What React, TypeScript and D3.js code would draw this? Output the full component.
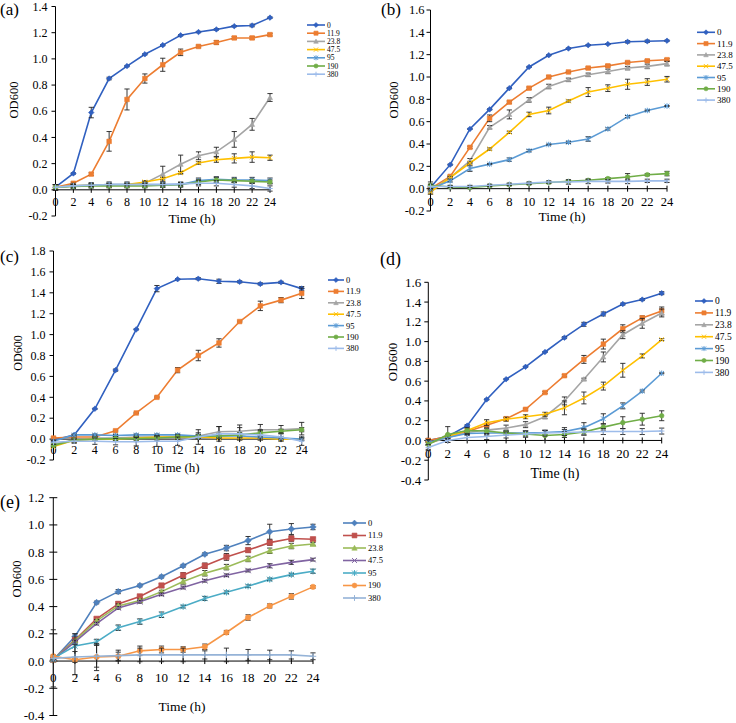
import React from 'react';
import * as d3 from 'd3';

// sampling times (h) and dose labels shared by every panel
const hours = [0, 2, 4, 6, 8, 10, 12, 14, 16, 18, 20, 22, 24];
const doses = ['0', '11.9', '23.8', '47.5', '95', '190', '380'];

// panel (a)
const aValues = [
  [0.02, 0.125, 0.59, 0.85, 0.945, 1.035, 1.105, 1.18, 1.205, 1.225, 1.25, 1.255, 1.315],
  [0.02, 0.05, 0.12, 0.37, 0.69, 0.85, 0.955, 1.05, 1.095, 1.125, 1.16, 1.16, 1.185],
  [0.02, 0.03, 0.035, 0.04, 0.04, 0.05, 0.12, 0.195, 0.26, 0.29, 0.385, 0.5, 0.705],
  [0.02, 0.03, 0.035, 0.035, 0.04, 0.06, 0.085, 0.13, 0.205, 0.23, 0.24, 0.25, 0.245],
  [0.02, 0.03, 0.035, 0.04, 0.04, 0.04, 0.04, 0.04, 0.07, 0.08, 0.075, 0.075, 0.07],
  [0.02, 0.025, 0.03, 0.03, 0.03, 0.03, 0.035, 0.04, 0.06, 0.075, 0.07, 0.065, 0.06],
  [0.02, 0.03, 0.035, 0.04, 0.04, 0.04, 0.04, 0.045, 0.05, 0.05, 0.04, 0.03, 0.01],
];
const aErrors = [
  [0.02, 0.005, 0.04, 0.01, 0.005, 0.005, 0.005, 0.005, 0.005, 0.005, 0.005, 0.01, 0.005],
  [0.02, 0.01, 0.01, 0.075, 0.08, 0.035, 0.05, 0.025, 0.01, 0.015, 0.01, 0.01, 0.01],
  [0.02, 0.01, 0.01, 0.01, 0.01, 0.01, 0.06, 0.07, 0.03, 0.035, 0.06, 0.045, 0.03],
  [0.02, 0.01, 0.01, 0.01, 0.01, 0.01, 0.01, 0.01, 0.01, 0.02, 0.035, 0.04, 0.02],
  [0.02, 0.02, 0.02, 0.02, 0.02, 0.02, 0.02, 0.02, 0.02, 0.02, 0.02, 0.02, 0.02],
  [0.02, 0.015, 0.015, 0.015, 0.015, 0.015, 0.015, 0.015, 0.02, 0.02, 0.015, 0.015, 0.015],
  [0.02, 0.01, 0.01, 0.01, 0.01, 0.01, 0.01, 0.01, 0.02, 0.02, 0.02, 0.02, 0.02],
];
const aTicks = [-0.2, 0, 0.2, 0.4, 0.6, 0.8, 1.0, 1.2, 1.4];

// panel (b)
const bValues = [
  [0.01, 0.215, 0.535, 0.71, 0.9, 1.09, 1.195, 1.255, 1.285, 1.295, 1.315, 1.32, 1.325],
  [0.0, 0.11, 0.37, 0.63, 0.775, 0.9, 1.0, 1.045, 1.08, 1.1, 1.13, 1.145, 1.155],
  [-0.02, 0.1, 0.25, 0.55, 0.665, 0.795, 0.915, 0.975, 1.02, 1.05, 1.08, 1.095, 1.12],
  [-0.03, 0.1, 0.23, 0.355, 0.505, 0.665, 0.7, 0.785, 0.865, 0.9, 0.935, 0.955, 0.98],
  [0.0, 0.07, 0.18, 0.22, 0.26, 0.34, 0.395, 0.415, 0.445, 0.535, 0.645, 0.7, 0.74],
  [0.03, 0.015, 0.01, 0.025, 0.035, 0.045, 0.055, 0.065, 0.075, 0.09, 0.105, 0.125, 0.135],
  [0.02, 0.02, 0.02, 0.03, 0.04, 0.05, 0.06, 0.06, 0.065, 0.065, 0.065, 0.07, 0.07],
];
const bErrors = [
  [0.02, 0.005, 0.005, 0.005, 0.005, 0.005, 0.005, 0.005, 0.005, 0.005, 0.01, 0.01, 0.005],
  [0.02, 0.01, 0.01, 0.03, 0.01, 0.01, 0.01, 0.005, 0.01, 0.01, 0.01, 0.01, 0.01],
  [0.02, 0.01, 0.02, 0.015, 0.04, 0.02, 0.02, 0.015, 0.015, 0.02, 0.015, 0.02, 0.02],
  [0.02, 0.01, 0.01, 0.01, 0.01, 0.02, 0.03, 0.01, 0.04, 0.03, 0.045, 0.03, 0.025],
  [0.02, 0.01, 0.025, 0.005, 0.015, 0.01, 0.005, 0.01, 0.02, 0.01, 0.01, 0.005, 0.005],
  [0.03, 0.01, 0.01, 0.01, 0.01, 0.01, 0.01, 0.01, 0.01, 0.01, 0.03, 0.01, 0.02],
  [0.02, 0.01, 0.01, 0.01, 0.01, 0.01, 0.01, 0.02, 0.02, 0.015, 0.02, 0.015, 0.015],
];
const bTicks = [-0.2, 0, 0.2, 0.4, 0.6, 0.8, 1.0, 1.2, 1.4, 1.6];

// panel (c)
const cValues = [
  [-0.01, 0.04, 0.29, 0.66, 1.05, 1.44, 1.53, 1.535, 1.51, 1.505, 1.485, 1.5, 1.44],
  [0.01, 0.02, 0.02, 0.08, 0.25, 0.4, 0.66, 0.8, 0.92, 1.125, 1.275, 1.33, 1.395],
  [-0.05, -0.01, 0.01, 0.01, 0.02, 0.02, 0.02, 0.03, 0.07, 0.075, 0.09, 0.09, 0.1],
  [-0.07, -0.01, 0.0, 0.0, 0.01, 0.02, 0.02, 0.02, 0.01, 0.01, 0.01, 0.0, 0.0],
  [-0.02, 0.04, 0.04, 0.035, 0.04, 0.04, 0.04, 0.03, 0.03, 0.03, 0.02, 0.01, 0.0],
  [-0.06, -0.01, 0.0, 0.005, 0.005, 0.01, 0.02, 0.025, 0.03, 0.04, 0.06, 0.075, 0.09],
  [-0.03, -0.02, -0.02, -0.025, -0.025, -0.02, -0.02, 0.02, 0.05, 0.05, 0.04, 0.02, -0.02],
];
const cErrors = [
  [0.01, 0.005, 0.005, 0.01, 0.005, 0.03, 0.005, 0.01, 0.02, 0.01, 0.01, 0.01, 0.02],
  [0.01, 0.005, 0.005, 0.005, 0.005, 0.005, 0.025, 0.05, 0.04, 0.005, 0.045, 0.025, 0.05],
  [0.02, 0.01, 0.01, 0.01, 0.02, 0.02, 0.02, 0.03, 0.05, 0.06, 0.05, 0.04, 0.06],
  [0.01, 0.01, 0.01, 0.01, 0.01, 0.01, 0.01, 0.01, 0.01, 0.01, 0.01, 0.01, 0.01],
  [0.01, 0.01, 0.01, 0.01, 0.01, 0.01, 0.01, 0.01, 0.01, 0.01, 0.01, 0.01, 0.01],
  [0.01, 0.02, 0.02, 0.02, 0.02, 0.02, 0.02, 0.02, 0.02, 0.02, 0.02, 0.02, 0.02],
  [0.02, 0.02, 0.03, 0.03, 0.04, 0.05, 0.04, 0.07, 0.07, 0.06, 0.05, 0.04, 0.04],
];
const cTicks = [-0.2, 0, 0.2, 0.4, 0.6, 0.8, 1.0, 1.2, 1.4, 1.6, 1.8];

// panel (d)
const dValues = [
  [0.0, 0.04, 0.15, 0.415, 0.62, 0.745, 0.895, 1.04, 1.175, 1.28, 1.38, 1.425, 1.49],
  [0.0, 0.04, 0.09, 0.155, 0.22, 0.315, 0.485, 0.655, 0.82, 0.975, 1.13, 1.24, 1.31],
  [-0.03, 0.03, 0.08, 0.105, 0.125, 0.16, 0.24, 0.4, 0.62, 0.845, 1.07, 1.185, 1.29],
  [-0.03, 0.04, 0.1, 0.18, 0.215, 0.24, 0.265, 0.33, 0.43, 0.55, 0.71, 0.855, 1.02],
  [-0.02, 0.03, 0.07, 0.075, 0.075, 0.075, 0.08, 0.09, 0.13, 0.22, 0.35, 0.5, 0.68],
  [-0.04, 0.06, 0.1, 0.095, 0.075, 0.065, 0.05, 0.06, 0.085, 0.135, 0.18, 0.215, 0.25],
  [-0.07, 0.0, 0.03, 0.04, 0.055, 0.065, 0.075, 0.08, 0.085, 0.09, 0.09, 0.09, 0.095],
];
const dErrors = [
  [0.02, 0.01, 0.01, 0.005, 0.005, 0.005, 0.005, 0.01, 0.02, 0.02, 0.01, 0.01, 0.015],
  [0.02, 0.01, 0.01, 0.01, 0.01, 0.01, 0.01, 0.01, 0.04, 0.05, 0.04, 0.02, 0.04],
  [0.02, 0.01, 0.02, 0.02, 0.03, 0.03, 0.02, 0.04, 0.01, 0.05, 0.04, 0.05, 0.04],
  [0.02, 0.01, 0.02, 0.03, 0.02, 0.02, 0.02, 0.07, 0.06, 0.04, 0.07, 0.02, 0.01],
  [0.02, 0.02, 0.02, 0.02, 0.02, 0.02, 0.02, 0.04, 0.05, 0.05, 0.03, 0.01, 0.005],
  [0.05, 0.08, 0.03, 0.03, 0.02, 0.03, 0.05, 0.03, 0.03, 0.03, 0.06, 0.06, 0.05],
  [0.03, 0.02, 0.03, 0.03, 0.03, 0.03, 0.03, 0.03, 0.03, 0.03, 0.03, 0.03, 0.03],
];
const dTicks = [-0.4, -0.2, 0, 0.2, 0.4, 0.6, 0.8, 1.0, 1.2, 1.4, 1.6];

// panel (e)
const eValues = [
  [0.01, 0.18, 0.43, 0.51, 0.555, 0.62, 0.7, 0.785, 0.83, 0.885, 0.95, 0.97, 0.985],
  [0.01, 0.155, 0.31, 0.42, 0.475, 0.555, 0.63, 0.7, 0.765, 0.815, 0.87, 0.9, 0.895],
  [0.01, 0.15, 0.295, 0.405, 0.445, 0.51, 0.585, 0.645, 0.69, 0.75, 0.81, 0.845, 0.86],
  [0.01, 0.14, 0.275, 0.39, 0.435, 0.49, 0.54, 0.59, 0.63, 0.665, 0.7, 0.725, 0.745],
  [0.02, 0.11, 0.14, 0.245, 0.29, 0.34, 0.4, 0.46, 0.505, 0.55, 0.6, 0.635, 0.66],
  [0.035, 0.01, 0.03, 0.035, 0.075, 0.085, 0.085, 0.105, 0.21, 0.32, 0.405, 0.475, 0.545],
  [0.02, 0.03, 0.035, 0.04, 0.045, 0.045, 0.045, 0.045, 0.045, 0.045, 0.045, 0.045, 0.035],
];
const eErrors = [
  [0.01, 0.02, 0.01, 0.015, 0.01, 0.01, 0.01, 0.01, 0.02, 0.03, 0.055, 0.04, 0.02],
  [0.01, 0.02, 0.01, 0.015, 0.01, 0.015, 0.02, 0.02, 0.025, 0.015, 0.02, 0.02, 0.01],
  [0.01, 0.01, 0.01, 0.015, 0.01, 0.01, 0.02, 0.02, 0.02, 0.02, 0.02, 0.02, 0.01],
  [0.01, 0.01, 0.01, 0.01, 0.01, 0.01, 0.01, 0.01, 0.01, 0.01, 0.015, 0.015, 0.01],
  [0.01, 0.09, 0.02, 0.02, 0.02, 0.02, 0.01, 0.015, 0.01, 0.01, 0.01, 0.01, 0.015],
  [0.01, 0.11, 0.1, 0.03, 0.035, 0.025, 0.02, 0.02, 0.015, 0.02, 0.015, 0.02, 0.01],
  [0.21, 0.04, 0.08, 0.04, 0.05, 0.05, 0.05, 0.03, 0.05, 0.04, 0.035, 0.03, 0.025],
];
const eTicks = [-0.4, -0.2, 0, 0.2, 0.4, 0.6, 0.8, 1.0, 1.2];

const colors2013 = ['#3060C0', '#ED7D31', '#A5A5A5', '#FFC000', '#5B9BD5', '#70AD47', '#9DBCEA'];
const colors2007 = ['#4F81BD', '#C0504D', '#9BBB59', '#8064A2', '#4BACC6', '#F79646', '#95B3D7'];
const markers = ['diamond', 'square', 'triangle', 'times', 'asterisk', 'circle', 'plus'];

const FONT = "'Liberation Serif', 'Times New Roman', Times, serif";

const panels = [
  {
    name: '(a)', values: aValues, errors: aErrors, ticks: aTicks, colors: colors2013,
    x0: 55.5, x1: 270, yDomain: [-0.2, 1.4], yRange: [216, 6.5],
    tickFont: 12, xLabelDy: 16.5, yGap: 8, crossTicks: false, r: 2.3,
    legend: { x: 307, w: 18, y: 25, dy: 8.2, font: 7.5 },
    title: { x: 0, y: 15, size: 17 },
    xTitle: { x: 192, y: 223, size: 13.5 },
    yTitle: { x: 13.5, y: 100, size: 12.5 },
  },
  {
    name: '(b)', values: bValues, errors: bErrors, ticks: bTicks, colors: colors2013,
    x0: 430.5, x1: 667, yDomain: [-0.2, 1.6], yRange: [211, 10],
    tickFont: 12.5, xLabelDy: 17.5, yGap: 6, crossTicks: false, r: 2.3,
    legend: { x: 697, w: 18, y: 32.3, dy: 11.3, font: 9 },
    title: { x: 381, y: 15, size: 17 },
    xTitle: { x: 562, y: 221, size: 13.5 },
    yTitle: { x: 393.5, y: 100, size: 12.5 },
  },
  {
    name: '(c)', values: cValues, errors: cErrors, ticks: cTicks, colors: colors2013,
    x0: 53.5, x1: 301.7, yDomain: [-0.2, 1.8], yRange: [460, 251],
    tickFont: 12, xLabelDy: 14.5, yGap: 8, crossTicks: false, r: 2.3,
    legend: { x: 328, w: 16, y: 280, dy: 11.4, font: 8.5 },
    title: { x: 0, y: 262, size: 17 },
    xTitle: { x: 177, y: 472, size: 13 },
    yTitle: { x: 18, y: 353, size: 12 },
  },
  {
    name: '(d)', values: dValues, errors: dErrors, ticks: dTicks, colors: colors2013,
    x0: 428.3, x1: 661.7, yDomain: [-0.4, 1.6], yRange: [480, 282.3],
    tickFont: 13, xLabelDy: 18, yGap: 7, crossTicks: false, r: 2.3,
    legend: { x: 695, w: 18, y: 301, dy: 11.9, font: 9.5 },
    title: { x: 380, y: 265, size: 18 },
    xTitle: { x: 555, y: 478, size: 14 },
    yTitle: { x: 392, y: 362, size: 13 },
  },
  {
    name: '(e)', values: eValues, errors: eErrors, ticks: eTicks, colors: colors2007,
    x0: 53.3, x1: 313, yDomain: [-0.4, 1.2], yRange: [715.5, 497.7],
    tickFont: 13, xLabelDy: 21, yGap: 9, crossTicks: true, r: 2.7,
    legend: { x: 343, w: 23, y: 523, dy: 12.5, font: 8.5 },
    title: { x: 0, y: 508, size: 18 },
    xTitle: { x: 182, y: 711, size: 13.5 },
    yTitle: { x: 16.5, y: 579, size: 12.5 },
  },
];

// marker outline for a given kind, centred on 0,0
const markerPath = (kind: string, r: number) => {
  switch (kind) {
    case 'diamond':
      return `M0,${-r * 1.2}L${r * 1.2},0L0,${r * 1.2}L${-r * 1.2},0Z`;
    case 'square':
      return `M${-r},${-r}h${2 * r}v${2 * r}h${-2 * r}Z`;
    case 'triangle':
      return `M0,${-r * 1.1}L${r * 1.1},${r * 0.9}L${-r * 1.1},${r * 0.9}Z`;
    case 'times':
      return `M${-r},${-r}L${r},${r}M${r},${-r}L${-r},${r}`;
    case 'asterisk':
      return `M${-r},${-r}L${r},${r}M${r},${-r}L${-r},${r}M0,${-r * 1.2}V${r * 1.2}`;
    case 'plus':
      return `M${-r * 1.2},0H${r * 1.2}M0,${-r * 1.2}V${r * 1.2}`;
    default:
      return d3.arc()({ innerRadius: 0, outerRadius: r, startAngle: 0, endAngle: Math.PI * 2 }) || '';
  }
};

const isStroked = (kind: string) => kind === 'times' || kind === 'asterisk' || kind === 'plus';

const Marker = ({ kind, x, y, r, color }: any) => (
  <path
    d={markerPath(kind, r)}
    transform={`translate(${x},${y})`}
    fill={isStroked(kind) ? 'none' : color}
    stroke={color}
    strokeWidth={isStroked(kind) ? 1 : 0.6}
  />
);

const Panel = ({ cfg }: any) => {
  const x = d3.scaleLinear().domain([0, 24]).range([cfg.x0, cfg.x1]);
  const y = d3.scaleLinear().domain(cfg.yDomain).range(cfg.yRange);
  const y0 = y(0);
  const line = d3.line<number>()
    .x((_, i) => x(hours[i]))
    .y(d => y(d));
  const cap = 2.6;

  return (
    <g fontFamily={FONT}>
      {/* axes */}
      <line x1={cfg.x0} x2={cfg.x0} y1={y(cfg.yDomain[0])} y2={y(cfg.yDomain[1])} stroke="#000" strokeWidth={1} />
      <line x1={x(0)} x2={x(24)} y1={y0} y2={y0} stroke="#000" strokeWidth={1} />
      {cfg.ticks.map((t: number) => (
        <g key={t}>
          <line
            x1={cfg.x0 - 4}
            x2={cfg.crossTicks ? cfg.x0 + 4 : cfg.x0}
            y1={y(t)}
            y2={y(t)}
            stroke="#000"
          />
          <text x={cfg.x0 - cfg.yGap} y={y(t)} dy="0.35em" textAnchor="end" fontSize={cfg.tickFont}>
            {t.toFixed(1)}
          </text>
        </g>
      ))}
      {hours.map(h => (
        <g key={h}>
          <line x1={x(h)} x2={x(h)} y1={y0 - 3} y2={y0 + 3} stroke="#000" />
          <text x={x(h)} y={y0 + cfg.xLabelDy} textAnchor="middle" fontSize={cfg.tickFont}>
            {h}
          </text>
        </g>
      ))}

      {/* series */}
      {cfg.values.map((vals: number[], s: number) => {
        const color = cfg.colors[s];
        const errs = cfg.errors[s];
        return (
          <g key={s}>
            <path d={line(vals) || ''} fill="none" stroke={color} strokeWidth={1.6} />
            {vals.map((v, i) => {
              const cx = x(hours[i]);
              const top = y(v + errs[i]);
              const bot = y(v - errs[i]);
              return (
                <g key={i} stroke="#222" strokeWidth={0.9}>
                  <line x1={cx} x2={cx} y1={top} y2={bot} />
                  <line x1={cx - cap} x2={cx + cap} y1={top} y2={top} />
                  <line x1={cx - cap} x2={cx + cap} y1={bot} y2={bot} />
                </g>
              );
            })}
            {vals.map((v, i) => (
              <Marker key={'m' + i} kind={markers[s]} x={x(hours[i])} y={y(v)} r={cfg.r} color={color} />
            ))}
          </g>
        );
      })}

      {/* legend */}
      {doses.map((d, s) => {
        const ly = cfg.legend.y + s * cfg.legend.dy;
        const lx = cfg.legend.x;
        return (
          <g key={d}>
            <line x1={lx} x2={lx + cfg.legend.w} y1={ly} y2={ly} stroke={cfg.colors[s]} strokeWidth={1.6} />
            <Marker kind={markers[s]} x={lx + cfg.legend.w / 2} y={ly} r={cfg.r * 0.9} color={cfg.colors[s]} />
            <text x={lx + cfg.legend.w + 2} y={ly} dy="0.35em" fontSize={cfg.legend.font}>
              {d}
            </text>
          </g>
        );
      })}

      {/* titles */}
      <text x={cfg.title.x} y={cfg.title.y} fontSize={cfg.title.size}>
        {cfg.name}
      </text>
      <text x={cfg.xTitle.x} y={cfg.xTitle.y} textAnchor="middle" fontSize={cfg.xTitle.size}>
        Time (h)
      </text>
      <text
        transform={`translate(${cfg.yTitle.x},${cfg.yTitle.y}) rotate(-90)`}
        textAnchor="middle"
        dy="0.35em"
        fontSize={cfg.yTitle.size}
      >
        OD600
      </text>
    </g>
  );
};

export default function App() {
  return (
    <svg
      width={736}
      height={723}
      style={{ position: 'absolute', left: 0, top: 0, background: '#fff' }}
    >
      <rect width={736} height={723} fill="#fff" />
      {panels.map(p => (
        <Panel key={p.name} cfg={p} />
      ))}
    </svg>
  );
}
